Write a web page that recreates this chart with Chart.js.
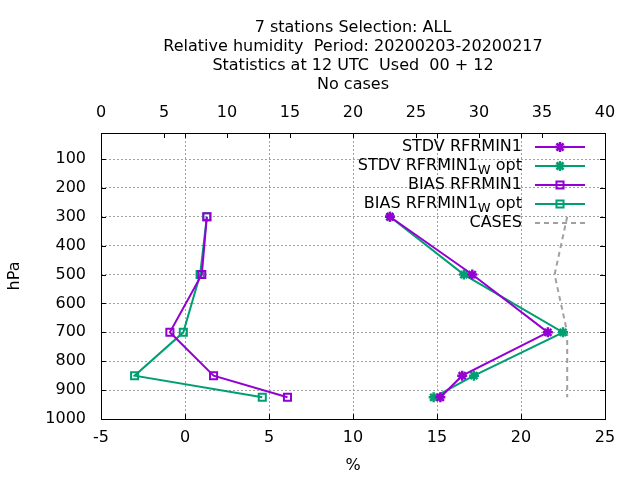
<!DOCTYPE html>
<html>
<head>
<meta charset="utf-8">
<script src="https://cdn.jsdelivr.net/npm/chart.js@4/dist/chart.umd.min.js"></script>
<style>
  html, body { margin: 0; padding: 0; background: #fff; }
  #chart { display: block; }
</style>
</head>
<body>
<canvas id="chart" width="640" height="480"></canvas>
<script>
// pressure levels (hPa)
const levels = [300, 500, 700, 850, 925];
const yTickValues = [100, 200, 300, 400, 500, 600, 700, 800, 900, 1000];

// relative humidity scores (%)
const stdvRfrmin1 = [12.2, 17.1, 21.6, 16.5, 15.2];
const stdvRfrmin1Wopt = [12.2, 16.6, 22.5, 17.2, 14.8];
const biasRfrmin1 = [1.3, 1.0, -0.9, 1.7, 6.1];
const biasRfrmin1Wopt = [1.3, 0.9, -0.1, -3.0, 4.6];

// number of cases (top axis)
const cases = [37, 36, 37, 37, 37];

const titleLines = [
  "7 stations Selection: ALL",
  "Relative humidity  Period: 20200203-20200217",
  "Statistics at 12 UTC  Used  00 + 12",
  "No cases"
];

// legend labels: [main text, subscript, trailing text]
const legendLabels = [
  ["STDV RFRMIN1", "", ""],
  ["STDV RFRMIN1", "W", " opt"],
  ["BIAS RFRMIN1", "", ""],
  ["BIAS RFRMIN1", "W", " opt"],
  ["CASES", "", ""]
];

const purple = "#9400d3";
const green = "#009e73";
const grey = "#a0a0a0";
const FONT = "DejaVu Sans";
const FS = 16;

function toPoints(xs) {
  return levels.map((p, i) => ({ x: xs[i], y: p }));
}

const datasets = [
  {
    data: toPoints(stdvRfrmin1),
    borderColor: purple, backgroundColor: purple,
    borderWidth: 2, pointStyle: "star", pointRadius: 5,
    pointBorderWidth: 2.5, xAxisID: "x", yAxisID: "y"
  },
  {
    data: toPoints(stdvRfrmin1Wopt),
    borderColor: green, backgroundColor: green,
    borderWidth: 2, pointStyle: "star", pointRadius: 5,
    pointBorderWidth: 2.5, xAxisID: "x", yAxisID: "y"
  },
  {
    data: toPoints(biasRfrmin1),
    borderColor: purple, backgroundColor: "rgba(0,0,0,0)",
    borderWidth: 2, pointStyle: "rect", pointRadius: 5,
    pointBorderWidth: 2, xAxisID: "x", yAxisID: "y"
  },
  {
    data: toPoints(biasRfrmin1Wopt),
    borderColor: green, backgroundColor: "rgba(0,0,0,0)",
    borderWidth: 2, pointStyle: "rect", pointRadius: 5,
    pointBorderWidth: 2, xAxisID: "x", yAxisID: "y"
  },
  {
    data: toPoints(cases),
    borderColor: grey, backgroundColor: grey,
    borderWidth: 2, borderDash: [5, 4], pointRadius: 0,
    xAxisID: "x2", yAxisID: "y"
  }
];

// box, inward ticks and the key, drawn like gnuplot does
const frameAndKey = {
  id: "frameAndKey",
  afterDatasetsDraw(chart) {
    const ctx = chart.ctx;
    const a = chart.chartArea;
    const sx = chart.scales.x, sx2 = chart.scales.x2, sy = chart.scales.y;
    ctx.save();
    ctx.strokeStyle = "#000";
    ctx.lineWidth = 1;
    ctx.setLineDash([]);
    ctx.beginPath();
    const tl = 5;
    sx.ticks.forEach(t => {
      const px = Math.round(sx.getPixelForValue(t.value)) + 0.5;
      ctx.moveTo(px, a.bottom); ctx.lineTo(px, a.bottom - tl);
      ctx.moveTo(px, a.top); ctx.lineTo(px, a.top + tl);
    });
    sx2.ticks.forEach(t => {
      const px = Math.round(sx2.getPixelForValue(t.value)) + 0.5;
      ctx.moveTo(px, a.top); ctx.lineTo(px, a.top + tl);
    });
    sy.ticks.forEach(t => {
      const py = Math.round(sy.getPixelForValue(t.value)) + 0.5;
      ctx.moveTo(a.left, py); ctx.lineTo(a.left + tl, py);
      ctx.moveTo(a.right, py); ctx.lineTo(a.right - tl, py);
    });
    ctx.stroke();
    ctx.strokeRect(Math.round(a.left) + 0.5, Math.round(a.top) + 0.5,
      Math.round(a.right - a.left), Math.round(a.bottom - a.top));

    // key
    const textRight = 522, lineX0 = 535, lineX1 = 585, markX = 560;
    const rowY0 = a.top + 14, rowH = 19;
    const big = FS + "px '" + FONT + "'", small = (FS - 3) + "px '" + FONT + "'";
    ctx.textBaseline = "middle";
    legendLabels.forEach((lab, i) => {
      const y = rowY0 + i * rowH;
      const ds = chart.data.datasets[i];
      ctx.font = big;
      const w0 = ctx.measureText(lab[0]).width;
      const w2 = ctx.measureText(lab[2]).width;
      ctx.font = small;
      const w1 = ctx.measureText(lab[1]).width;
      let x = textRight - w0 - w1 - w2;
      ctx.fillStyle = "#000";
      ctx.textAlign = "left";
      ctx.font = big;
      ctx.fillText(lab[0], x, y);
      x += w0;
      if (lab[1]) {
        ctx.font = small;
        ctx.fillText(lab[1], x, y + 5);
        x += w1;
        ctx.font = big;
        ctx.fillText(lab[2], x, y);
      }
      ctx.strokeStyle = ds.borderColor;
      ctx.lineWidth = ds.borderWidth;
      ctx.setLineDash(ds.borderDash || []);
      ctx.beginPath();
      ctx.moveTo(lineX0, y); ctx.lineTo(lineX1, y);
      ctx.stroke();
      ctx.setLineDash([]);
      if (ds.pointRadius > 0) {
        ctx.fillStyle = ds.backgroundColor;
        ctx.strokeStyle = ds.borderColor;
        ctx.lineWidth = ds.pointBorderWidth;
        Chart.helpers.drawPoint(ctx, {
          pointStyle: ds.pointStyle, radius: ds.pointRadius,
          borderWidth: ds.pointBorderWidth, rotation: 0
        }, markX, y);
      }
    });
    ctx.restore();
  }
};

new Chart(document.getElementById("chart").getContext("2d"), {
  type: "line",
  data: { datasets: datasets },
  options: {
    responsive: false,
    animation: false,
    devicePixelRatio: 1,
    layout: { padding: { left: 0, right: 35, top: 0, bottom: 0 } },
    plugins: {
      legend: { display: false },
      tooltip: { enabled: false },
      title: {
        display: true,
        fullSize: false,
        text: titleLines,
        color: "#000",
        font: { family: FONT, size: FS, weight: "normal", lineHeight: "19px" },
        padding: { top: 18, bottom: 0 }
      }
    },
    scales: {
      x: {
        type: "linear", position: "bottom",
        min: -5, max: 25,
        ticks: { stepSize: 5, color: "#000", padding: 9, font: { family: FONT, size: FS } },
        grid: { color: grey, lineWidth: 1, drawTicks: false },
        border: { display: false, dash: [2, 2] },
        title: { display: true, text: "%", color: "#000", font: { family: FONT, size: FS }, padding: { top: 0, bottom: 5 } },
        afterFit(s) { s.height = 61; }
      },
      x2: {
        type: "linear", position: "top",
        min: 0, max: 40,
        ticks: { stepSize: 5, color: "#000", padding: 11, font: { family: FONT, size: FS } },
        grid: { display: false, drawTicks: false },
        border: { display: false },
        afterFit(s) { s.height = 39; }
      },
      y: {
        type: "linear", position: "left",
        reverse: true, min: 10, max: 1000,
        ticks: {
          color: "#000", padding: 15, font: { family: FONT, size: FS },
          callback: v => String(v)
        },
        afterBuildTicks(s) { s.ticks = yTickValues.map(v => ({ value: v })); },
        grid: { color: grey, lineWidth: 1, drawTicks: false },
        border: { display: false, dash: [2, 2] },
        title: { display: true, text: "hPa", color: "#000", font: { family: FONT, size: FS }, padding: { top: 5, bottom: 0 } },
        afterFit(s) { s.width = 101; }
      }
    }
  },
  plugins: [frameAndKey]
});
</script>
</body>
</html>
